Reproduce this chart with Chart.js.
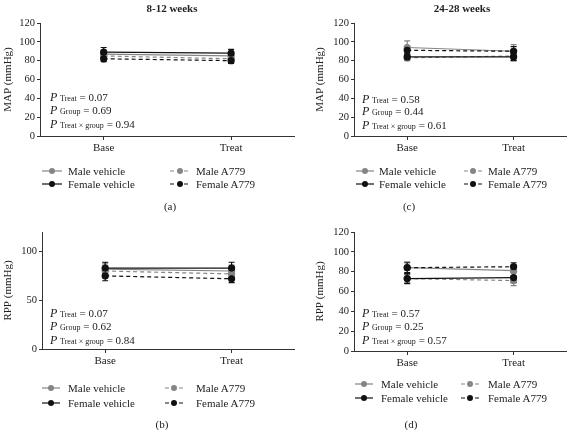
<!DOCTYPE html>
<html><head><meta charset="utf-8">
<script src="https://cdn.jsdelivr.net/npm/chart.js@4/dist/chart.umd.min.js"></script>
<style>
body{margin:0;width:572px;height:430px;background:#fff;position:relative;overflow:hidden;font-family:"Liberation Serif",serif;color:#222}
canvas{position:absolute}
.t{position:absolute;font-weight:bold;font-size:11px;transform:translate(-50%,-50%);white-space:nowrap}
.p{position:absolute;font-size:11px;white-space:nowrap;transform:translateY(-50%)}
.p i{font-size:12px}
.p .s{font-size:8px}
.lg{position:absolute;font-size:11px;white-space:nowrap;transform:translateY(-50%)}
.mk{position:absolute;transform:translateY(-50%)}
.lab{position:absolute;font-size:11px;transform:translate(-50%,-50%)}
</style>
</head><body>
<canvas id="ca" width="300" height="160" style="left:0;top:0"></canvas>
<canvas id="cc" width="260" height="160" style="left:312px;top:0"></canvas>
<canvas id="cb" width="300" height="160" style="left:0;top:215px"></canvas>
<canvas id="cd" width="260" height="160" style="left:312px;top:215px"></canvas>
<div id="overlay"></div>
<script>
const categories = ['Base', 'Treat'];
const seriesNames = ['Male vehicle', 'Male A779', 'Female vehicle', 'Female A779'];

// (a) MAP, 8-12 weeks
const aMaleVeh = [87, 85], aMaleVehErr = [4, 4];
const aMaleA779 = [85, 82], aMaleA779Err = [4, 4];
const aFemVeh = [89, 88], aFemVehErr = [5, 4];
const aFemA779 = [82, 80], aFemA779Err = [3, 3];
const aP = ['0.07', '0.69', '0.94'];

// (c) MAP, 24-28 weeks
const cMaleVeh = [94, 90], cMaleVehErr = [7, 7];
const cMaleA779 = [83, 85], cMaleA779Err = [3, 5];
const cFemVeh = [84, 84], cFemVehErr = [3, 4];
const cFemA779 = [91, 90], cFemA779Err = [4, 5];
const cP = ['0.58', '0.44', '0.61'];

// (b) RPP, 8-12 weeks
const bMaleVeh = [82, 80], bMaleVehErr = [6, 6];
const bMaleA779 = [80, 77], bMaleA779Err = [6, 6];
const bFemVeh = [83, 83], bFemVehErr = [6, 6];
const bFemA779 = [75, 72], bFemA779Err = [5, 4];
const bP = ['0.07', '0.62', '0.84'];

// (d) RPP, 24-28 weeks
const dMaleVeh = [84, 81], dMaleVehErr = [6, 6];
const dMaleA779 = [73, 71], dMaleA779Err = [4, 5];
const dFemVeh = [73, 74], dFemVehErr = [5, 5];
const dFemA779 = [84, 85], dFemA779Err = [5, 4];
const dP = ['0.57', '0.25', '0.57'];

const GRAY = '#858585', BLACK = '#111';
const styles = [
  {color: GRAY, dash: [], order: 2},
  {color: GRAY, dash: [4, 3], order: 3},
  {color: BLACK, dash: [], order: 0},
  {color: BLACK, dash: [4, 3], order: 1}
];

const errorBars = {
  id: 'errorBars',
  beforeDatasetsDraw(chart) {
    const ctx = chart.ctx, y = chart.scales.y;
    chart.data.datasets.forEach((ds, di) => {
      const meta = chart.getDatasetMeta(di);
      ctx.save();
      ctx.strokeStyle = ds.borderColor;
      ctx.lineWidth = 1.2;
      meta.data.forEach((pt, i) => {
        const v = ds.data[i], e = ds.errors[i];
        const yt = y.getPixelForValue(v + e), yb = y.getPixelForValue(v - e);
        ctx.beginPath();
        ctx.moveTo(pt.x, yt); ctx.lineTo(pt.x, yb);
        ctx.moveTo(pt.x - 3, yt); ctx.lineTo(pt.x + 3, yt);
        ctx.moveTo(pt.x - 3, yb); ctx.lineTo(pt.x + 3, yb);
        ctx.stroke();
      });
      ctx.restore();
    });
  }
};

function makeChart(id, vals, errs, yTitle, opt) {
  const datasets = vals.map((v, i) => ({
    label: seriesNames[i],
    data: v,
    errors: errs[i],
    order: styles[i].order,
    borderColor: styles[i].color,
    backgroundColor: styles[i].color,
    pointBackgroundColor: styles[i].color,
    pointBorderColor: styles[i].color,
    borderDash: styles[i].dash,
    borderWidth: 1.2,
    pointRadius: 3,
    tension: 0
  }));
  new Chart(document.getElementById(id), {
    type: 'line',
    data: {labels: categories, datasets},
    plugins: [errorBars],
    options: {
      responsive: false,
      animation: false,
      layout: {padding: {top: opt.top, right: opt.right, left: 0, bottom: 0}},
      plugins: {legend: {display: false}, tooltip: {enabled: false}},
      scales: {
        x: {
          offset: true,
          grid: {offset: false, drawOnChartArea: false, tickLength: 4, color: '#333'},
          border: {color: '#333', width: 1},
          ticks: {font: {family: 'Liberation Serif', size: 11}, color: '#222', padding: 2},
          afterFit: s => { s.height = opt.xh; }
        },
        y: {
          min: 0, max: 120,
          ticks: {stepSize: opt.step, font: {family: 'Liberation Serif', size: 10.5}, color: '#222', padding: 2},
          afterBuildTicks: s => { s.ticks = s.ticks.filter(t => t.value % opt.step === 0); },
          grid: {drawOnChartArea: false, tickLength: 3, color: '#333'},
          border: {color: '#333', width: 1},
          title: {display: true, text: yTitle, font: {family: 'Liberation Serif', size: 11}, color: '#222', padding: 2},
          afterFit: s => { s.width = opt.yw; }
        }
      }
    }
  });
}

makeChart('ca', [aMaleVeh, aMaleA779, aFemVeh, aFemA779], [aMaleVehErr, aMaleA779Err, aFemVehErr, aFemA779Err], 'MAP (mmHg)', {top: 23, right: 2, xh: 24, yw: 40, step: 20});
makeChart('cc', [cMaleVeh, cMaleA779, cFemVeh, cFemA779], [cMaleVehErr, cMaleA779Err, cFemVehErr, cFemA779Err], 'MAP (mmHg)', {top: 23, right: 1, xh: 24, yw: 42, step: 20});
makeChart('cb', [bMaleVeh, bMaleA779, bFemVeh, bFemA779], [bMaleVehErr, bMaleA779Err, bFemVehErr, bFemA779Err], 'RPP (mmHg)', {top: 17, right: 1, xh: 26, yw: 42, step: 50});
makeChart('cd', [dMaleVeh, dMaleA779, dFemVeh, dFemA779], [dMaleVehErr, dMaleA779Err, dFemVehErr, dFemA779Err], 'RPP (mmHg)', {top: 17, right: 3, xh: 24, yw: 42, step: 20});

const ov = document.getElementById('overlay');
function add(html) { ov.insertAdjacentHTML('beforeend', html); }

add('<div class="t" style="left:172px;top:8px">8-12 weeks</div>');
add('<div class="t" style="left:462px;top:8px">24-28 weeks</div>');

function pvals(x, ys, p) {
  const names = ['Treat', 'Group', 'Treat × group'];
  names.forEach((n, i) => add('<div class="p" style="left:' + x + 'px;top:' + ys[i] + 'px"><i>P</i> <span class="s">' + n + '</span> = ' + p[i] + '</div>'));
}
pvals(50, [97, 110, 124], aP);
pvals(362, [99, 111, 125], cP);
pvals(50, [313, 326, 340], bP);
pvals(362, [313, 326, 340], dP);

function marker(x, y, si, w) {
  const s = styles[si];
  const dash = s.dash.length ? ' stroke-dasharray="4 3"' : '';
  add('<svg class="mk" style="left:' + x + 'px;top:' + y + 'px" width="' + w + '" height="8"><line x1="0" y1="4" x2="' + w + '" y2="4" stroke="' + s.color + '" stroke-width="1.2"' + dash + '/><circle cx="' + (w / 2) + '" cy="4" r="3" fill="' + s.color + '"/></svg>');
}
function legend(rows, c1m, c1t, c2m, c2t, w) {
  // row 1: Male vehicle, Male A779; row 2: Female vehicle, Female A779
  const order = [[0, 1], [2, 3]];
  order.forEach((pair, r) => {
    marker(c1m, rows[r], pair[0], w);
    add('<div class="lg" style="left:' + c1t + 'px;top:' + rows[r] + 'px">' + seriesNames[pair[0]] + '</div>');
    marker(c2m, rows[r], pair[1], w);
    add('<div class="lg" style="left:' + c2t + 'px;top:' + rows[r] + 'px">' + seriesNames[pair[1]] + '</div>');
  });
}
legend([171, 184], 42, 68, 170, 196, 20);
legend([171, 184], 356, 379, 464, 488, 18);
legend([388, 403], 42, 68, 165, 196, 18);
legend([384, 398], 355, 381, 461, 488, 18);

add('<div class="lab" style="left:170px;top:206px">(a)</div>');
add('<div class="lab" style="left:409px;top:206px">(c)</div>');
add('<div class="lab" style="left:162px;top:424px">(b)</div>');
add('<div class="lab" style="left:411px;top:424px">(d)</div>');
</script>
</body></html>
